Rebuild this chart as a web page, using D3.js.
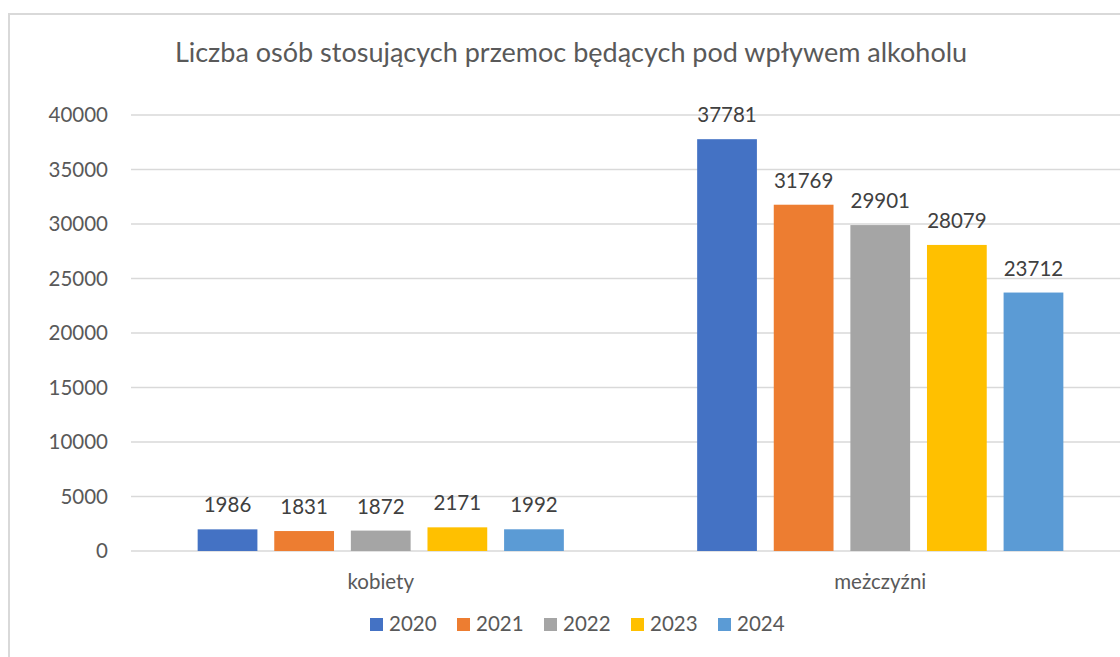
<!DOCTYPE html>
<html>
<head>
<meta charset="utf-8">
<script src="https://cdn.jsdelivr.net/npm/d3@7"></script>
<style>
  body { margin: 0; background: #fff; }
  svg { display: block; font-family: Lato, "Open Sans", sans-serif; }
</style>
</head>
<body>
<svg id="chart"></svg>
<script>
// Chart data
const categories = ["kobiety", "meżczyźni"];
const years = ["2020", "2021", "2022", "2023", "2024"];
const values = {
    "2020": [1986, 37781],
    "2021": [1831, 31769],
    "2022": [1872, 29901],
    "2023": [2171, 28079],
    "2024": [1992, 23712]
};
const yTicks = [0, 5000, 10000, 15000, 20000, 25000, 30000, 35000, 40000];
const colors = ["#4472C4", "#ED7D31", "#A5A5A5", "#FFC000", "#5B9BD5"];
const title = "Liczba osób stosujących przemoc będących pod wpływem alkoholu";

const W = 1120, H = 657;
const textColor = "#595959";
const gridColor = "#d9d9d9";

const svg = d3.select("#chart")
    .attr("width", W)
    .attr("height", H);

// Chart border (runs off the right and bottom edges)
svg.append("rect")
    .attr("x", 9)
    .attr("y", 14)
    .attr("width", 1200)
    .attr("height", 1000)
    .attr("fill", "none")
    .attr("stroke", gridColor)
    .attr("stroke-width", 2);

// Title
svg.append("text")
    .attr("x", 571)
    .attr("y", 62)
    .attr("text-anchor", "middle")
    .style("font-size", "27px")
    .style("font-weight", 400)
    .attr("fill", textColor)
    .text(title);

// Scales
const x = d3.scaleBand()
    .domain(categories)
    .range([131, 1130])
    .padding(0);

const xYear = d3.scaleBand()
    .domain(years)
    .range([0, x.bandwidth()])
    .paddingInner(0.22)
    .paddingOuter(0.87);

const y = d3.scaleLinear()
    .domain([0, 40000])
    .range([551, 115]);

// Gridlines
svg.append("g")
    .selectAll("line")
    .data(yTicks)
    .join("line")
    .attr("x1", 131)
    .attr("x2", W)
    .attr("y1", d => y(d))
    .attr("y2", d => y(d))
    .attr("stroke", gridColor)
    .attr("stroke-width", 1.5);

// Y axis labels
svg.append("g")
    .selectAll("text")
    .data(yTicks)
    .join("text")
    .attr("x", 108)
    .attr("y", d => y(d))
    .attr("dy", "0.36em")
    .attr("text-anchor", "end")
    .style("font-size", "20.5px")
    .attr("fill", textColor)
    .text(d => d);

// Bars + value labels
years.forEach((yr, i) => {
    const g = svg.append("g");
    const rows = categories.map((c, j) => ({cat: c, value: values[yr][j]}));

    g.selectAll("rect")
        .data(rows)
        .join("rect")
        .attr("x", d => x(d.cat) + xYear(yr))
        .attr("y", d => y(d.value))
        .attr("width", xYear.bandwidth())
        .attr("height", d => y(0) - y(d.value))
        .attr("fill", colors[i]);

    g.selectAll("text")
        .data(rows)
        .join("text")
        .attr("x", d => x(d.cat) + xYear(yr) + xYear.bandwidth() / 2)
        .attr("y", d => y(d.value) - 17)
        .attr("text-anchor", "middle")
        .style("font-size", "20.5px")
        .attr("fill", "#404040")
        .text(d => d.value);
});

// Category labels
svg.append("g")
    .selectAll("text")
    .data(categories)
    .join("text")
    .attr("x", d => x(d) + x.bandwidth() / 2)
    .attr("y", 589)
    .attr("text-anchor", "middle")
    .style("font-size", "20.5px")
    .attr("fill", textColor)
    .text(d => d);

// Legend
const legend = svg.append("g");
const itemW = 87;
const legendX = 370;
years.forEach((yr, i) => {
    const item = legend.append("g")
        .attr("transform", `translate(${legendX + i * itemW},0)`);
    item.append("rect")
        .attr("x", 0)
        .attr("y", 618)
        .attr("width", 13)
        .attr("height", 13)
        .attr("fill", colors[i]);
    item.append("text")
        .attr("x", 19)
        .attr("y", 631)
        .style("font-size", "20.5px")
        .attr("fill", textColor)
        .text(yr);
});
</script>
</body>
</html>
